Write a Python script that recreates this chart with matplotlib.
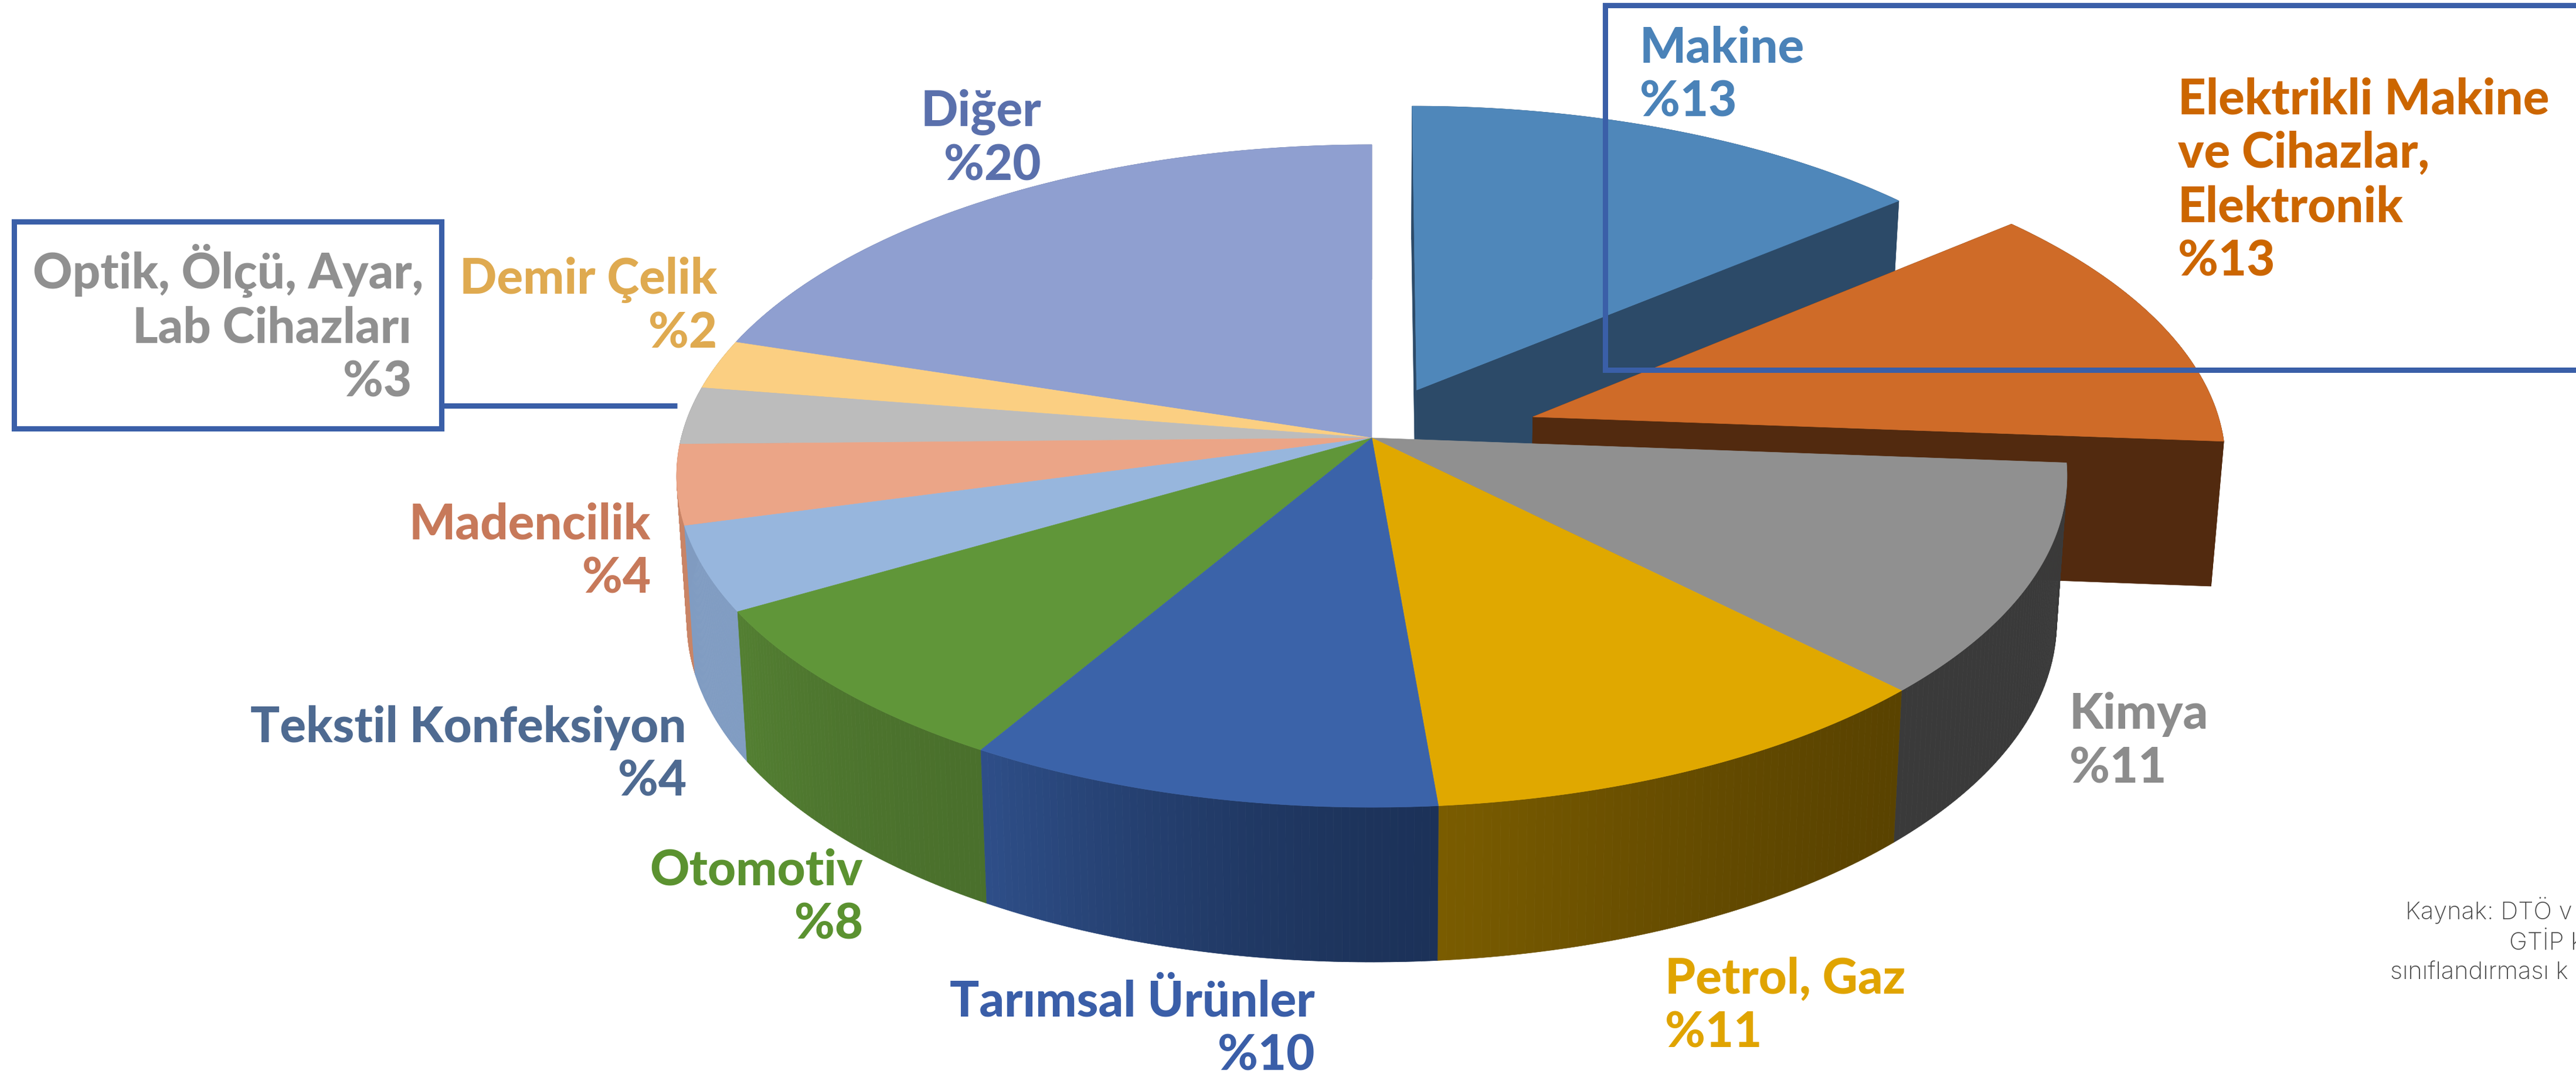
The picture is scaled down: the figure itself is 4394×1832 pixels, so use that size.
import numpy as np
import matplotlib
matplotlib.use('Agg')
import matplotlib.pyplot as plt
from matplotlib.colors import to_rgb

# shares, clockwise from 12 o'clock
slices = ['Makine', 'Elektrikli', 'Kimya', 'Petrol', 'Tarimsal', 'Otomotiv',
          'Tekstil', 'Madencilik', 'Optik', 'Demir', 'Diger']
shares = [13.9, 12.3, 11.36, 11.08, 9.88, 8.13, 4.15, 3.9, 2.8, 2.4, 20.1]
explode_u = [0.066, 0.235, 0, 0, 0, 0, 0, 0, 0, 0, 0]
explode_v = [-0.149, -0.065, 0, 0, 0, 0, 0, 0, 0, 0, 0]

top_colors = ['#4f87ba', '#cf6b28', '#909090', '#e0a800', '#3b63a9', '#609639',
              '#97b6dd', '#eba587', '#bcbcbc', '#fbcf82', '#8f9fd0']
wall_start = ['#2c4a68', '#522a0f', '#3a3a3a', '#5a4300', '#1c3259', '#4a702c',
              '#809cc2', '#c98466', '#8a8a8a', '#b09050', '#5f6c90']
wall_end = ['#2c4a68', '#522a0f', '#3a3a3a', '#7a5c00', '#2e4e88', '#537f32',
            '#809cc2', '#c98466', '#8a8a8a', '#b09050', '#5f6c90']

labels = [
    ['Makine', '%13'],
    ['Elektrikli Makine', 've Cihazlar,', 'Elektronik', '%13'],
    ['Kimya', '%11'],
    ['Petrol, Gaz', '%11'],
    ['Tarımsal Ürünler', '%10'],
    ['Otomotiv', '%8'],
    ['Tekstil Konfeksiyon', '%4'],
    ['Madencilik', '%4'],
    ['Optik, Ölçü, Ayar,', 'Lab Cihazları ', '%3 '],
    ['Demir Çelik', '%2'],
    ['Diğer', '%20'],
]
label_colors = ['#4a82b8', '#cc6600', '#8c8c8c', '#e0a400', '#3a5ea8', '#5b9230',
                '#4e6a91', '#c7795a', '#909090', '#dfaa50', '#5a70ac']
label_x = [2797, 3715, 3530, 2840, 2243, 1472, 1171, 1110, 722, 1223, 1776]
label_y = [106, 194, 1243, 1695, 1734, 1510, 1266, 919, 492, 501, 215]
label_ha = ['left', 'left', 'left', 'left', 'right', 'right', 'right', 'right',
            'right', 'right', 'right']

source_lines = ['Kaynak: DTÖ v', 'GTİP k', 'sınıflandırması k']
source_x = [4103, 4280, 4077]
source_y = [1568, 1620, 1670]

CX, CY = 2340, 748
A, B, K = 1178, 557.6, 0.115
DEPTH, SLOPE, SHRINK = 247, 17, 0.985
BOX_COLOR = '#3a5fa8'
FONT = 'Lato'
LINE_STEP = 92


def project(u, v, bottom=False):
    w = 1 - K * v
    x = CX + A * u / w
    y = CY + B * v / w
    if bottom:
        x = CX + (x - CX) * SHRINK
        y = y + DEPTH + SLOPE * v
    return x, y


def mix(c1, c2, t):
    c1, c2 = np.array(to_rgb(c1)), np.array(to_rgb(c2))
    return tuple(c1 + (c2 - c1) * t)


fig = plt.figure(figsize=(4394 / 100, 1833 / 100), dpi=100)
ax = fig.add_axes([0, 0, 1, 1])
ax.set_xlim(0, 4394)
ax.set_ylim(1833, 0)
ax.axis('off')

edges = np.cumsum([0] + shares) / sum(shares) * 2 * np.pi


def draw_walls(i):
    du, dv = explode_u[i], explode_v[i]
    th = np.linspace(edges[i], edges[i + 1], 61)
    u, v = np.sin(th) + du, -np.cos(th) + dv
    xt, yt = project(u, v)
    xb, yb = project(u, v, True)
    if du != 0:
        ax0, ay0 = project(du, dv)
        bx0, by0 = project(du, dv, True)
        for j in [0, -1]:
            ax.fill([ax0, xt[j], xb[j], bx0], [ay0, yt[j], yb[j], by0],
                    color=wall_start[i], lw=0.5)
    for j in range(len(th) - 1):
        c = mix(wall_start[i], wall_end[i], (j / (len(th) - 2)) ** 1.5)
        ax.fill([xt[j], xt[j + 1], xb[j + 1], xb[j]], [yt[j], yt[j + 1], yb[j + 1], yb[j]],
                color=c, lw=0.5)


def draw_top(i):
    du, dv = explode_u[i], explode_v[i]
    th = np.linspace(edges[i], edges[i + 1], 120)
    u = np.concatenate([[du], np.sin(th) + du])
    v = np.concatenate([[dv], -np.cos(th) + dv])
    x, y = project(u, v)
    ax.fill(x, y, color=top_colors[i], lw=0.5)


# exploded slices go first, the body of the pie sits in front of them
for i in [0, 1]:
    draw_walls(i)
    draw_top(i)
body = sorted(range(2, len(shares)), key=lambda i: -np.cos((edges[i] + edges[i + 1]) / 2))
for i in body:
    draw_walls(i)
for i in body:
    draw_top(i)

# callout boxes
ax.plot([4500, 2738, 2738, 4500], [10, 10, 632, 632], color=BOX_COLOR, lw=6.5, solid_joinstyle='miter')
ax.plot([24, 753, 753, 24, 24], [379, 379, 732, 732, 379], color=BOX_COLOR, lw=6.5, solid_joinstyle='miter')
ax.plot([753, 1155], [693, 693], color=BOX_COLOR, lw=6.5, solid_capstyle='butt')

for i, lines in enumerate(labels):
    for j, line in enumerate(lines):
        ax.text(label_x[i], label_y[i] + j * LINE_STEP, line, color=label_colors[i],
                ha=label_ha[i], va='baseline', family=FONT, weight='black', fontsize=60)

for line, x, y in zip(source_lines, source_x, source_y):
    ax.text(x, y, line, color='#4a4a4a', ha='left', va='baseline', family='Inter',
            weight='light', fontsize=30, clip_on=True)

fig.savefig('out.png', dpi=100, facecolor='white')
